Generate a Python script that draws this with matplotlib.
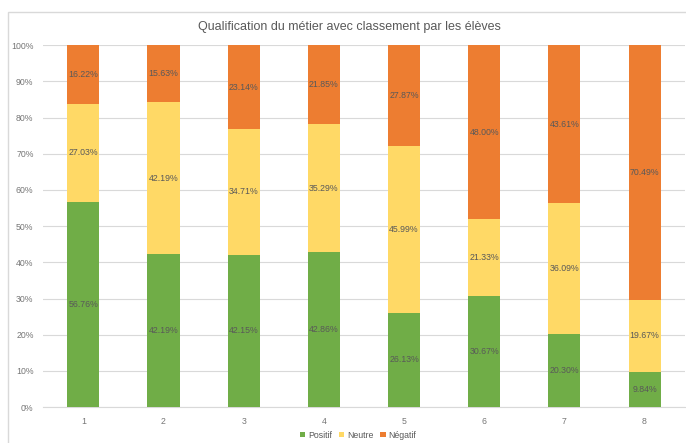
import numpy as np
import matplotlib.pyplot as plt
from matplotlib.patches import Rectangle

categories = ['1', '2', '3', '4', '5', '6', '7', '8']
positif = [56.76, 42.19, 42.15, 42.86, 26.13, 30.67, 20.30, 9.84]
neutre = [27.03, 42.19, 34.71, 35.29, 45.99, 21.33, 36.09, 19.67]
negatif = [16.22, 15.63, 23.14, 21.85, 27.87, 48.00, 43.61, 70.49]
series_names = ['Positif', 'Neutre', 'Négatif']
colors = ['#70AD47', '#FFD966', '#ED7D31']

plt.rcParams['font.family'] = ['Liberation Sans', 'DejaVu Sans']
txt = '#595959'

fig = plt.figure(figsize=(6.86, 4.43), dpi=100)
ax = fig.add_axes([0.063, 0.081, 0.935, 0.817])

# chart border
fig.patches.append(Rectangle((8/686, -0.1), 1.0, 1 - 12/443 + 0.1, transform=fig.transFigure,
                             fill=False, edgecolor='#D9D9D9', lw=1))

x = np.arange(len(categories))
bottom = np.zeros(len(categories))
for vals, name, c in zip([positif, neutre, negatif], series_names, colors):
    vals = np.array(vals)
    ax.bar(x, vals, 0.4, bottom=bottom, color=c, label=name, zorder=3)
    for xi, b, v in zip(x, bottom, vals):
        ax.text(xi, b + v / 2, '{:.2f}%'.format(v), ha='center', va='center',
                fontsize=6.3, color=txt, zorder=4)
    bottom += vals

ax.set_xlim(-0.5, len(categories) - 0.5)
ax.set_ylim(0, 100)
ax.set_yticks(np.arange(0, 101, 10))
ax.set_yticklabels(['{}%'.format(v) for v in range(0, 101, 10)])
ax.set_xticks(x)
ax.set_xticklabels(categories)
ax.tick_params(length=0, labelsize=6.3, colors='#767676', pad=7)
ax.grid(axis='y', color='#D9D9D9', lw=0.8, zorder=0)
for s in ['top', 'right', 'left']:
    ax.spines[s].set_visible(False)
ax.spines['bottom'].set_color('#D9D9D9')

fig.text(0.51, 0.94, 'Qualification du métier avec classement par les élèves',
         ha='center', va='center', fontsize=9, color=txt)

fig.legend(loc='center', bbox_to_anchor=(0.522, 0.018), ncol=3, frameon=False,
           fontsize=6.3, handlelength=0.6, handleheight=0.6, handletextpad=0.3,
           columnspacing=0.8, labelcolor=txt)

fig.savefig('out.png', dpi=100)
